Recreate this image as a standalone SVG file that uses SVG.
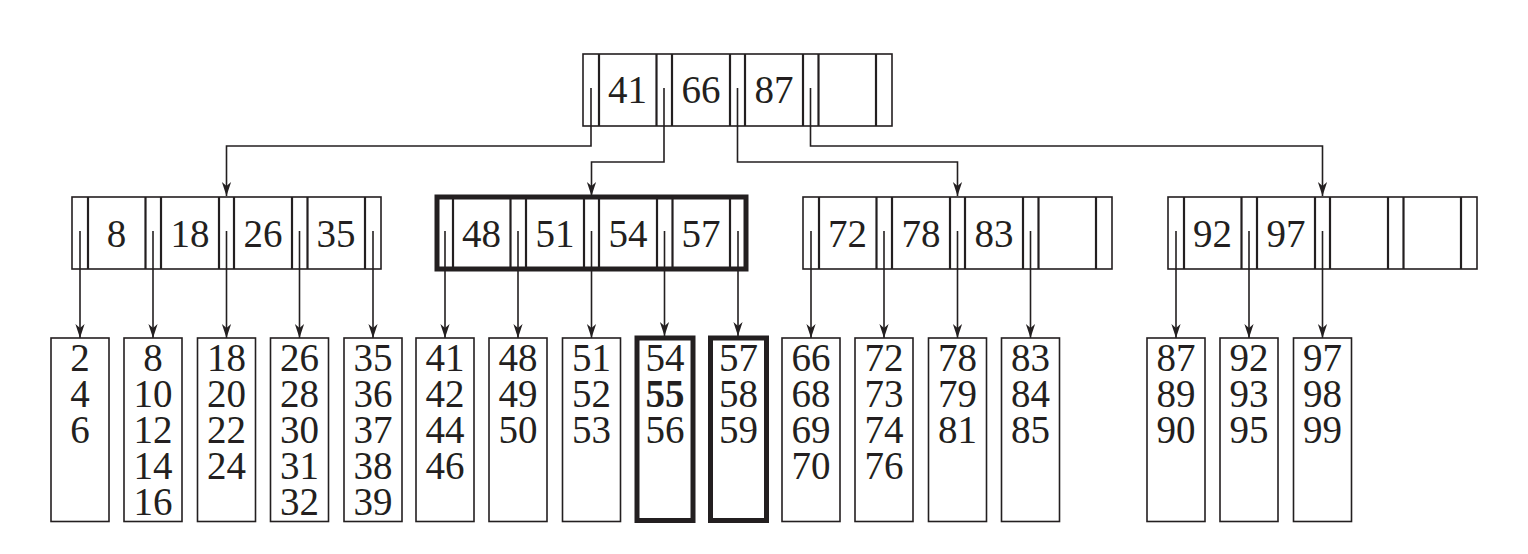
<svg xmlns="http://www.w3.org/2000/svg" width="1528" height="554" viewBox="0 0 1528 554">
<defs>
<style>
.box{fill:none;stroke:#231f20;stroke-width:1.6}
.bold{fill:none;stroke:#231f20;stroke-width:5}
.div{stroke:#231f20;stroke-width:2.2}
.t{font-family:"Liberation Serif","Times New Roman",serif;font-size:39px;fill:#231f20;text-anchor:middle}
.b{font-weight:bold}
.c{fill:none;stroke:#231f20;stroke-width:1.6}
</style>
<marker id="ah" markerUnits="userSpaceOnUse" markerWidth="16" markerHeight="12" refX="0" refY="0" viewBox="-15 -6 16 12" orient="auto">
<path d="M0,0 L-14,-4.6 L-10,0 L-14,4.6 Z" fill="#231f20"/>
</marker>
<g id="cells">
<line class="div" x1="16" y1="0" x2="16" y2="72"/>
<line class="div" x1="73.5" y1="0" x2="73.5" y2="72"/>
<line class="div" x1="89" y1="0" x2="89" y2="72"/>
<line class="div" x1="147" y1="0" x2="147" y2="72"/>
<line class="div" x1="162" y1="0" x2="162" y2="72"/>
<line class="div" x1="220" y1="0" x2="220" y2="72"/>
<line class="div" x1="235.5" y1="0" x2="235.5" y2="72"/>
<line class="div" x1="293" y1="0" x2="293" y2="72"/>
</g>
</defs>
<rect width="1528" height="554" fill="#ffffff"/>

<g id="root">
<rect class="box" x="583" y="54" width="309" height="72"/>
<use href="#cells" x="583" y="54"/>
<text class="t" x="627.5" y="103">41</text>
<text class="t" x="701" y="103">66</text>
<text class="t" x="774" y="103">87</text>
</g>

<g id="n1">
<rect class="box" x="72" y="197" width="309" height="72"/>
<use href="#cells" x="72" y="197"/>
<text class="t" x="116.5" y="246.5">8</text>
<text class="t" x="190" y="246.5">18</text>
<text class="t" x="263" y="246.5">26</text>
<text class="t" x="336" y="246.5">35</text>
</g>

<g id="n2">
<use href="#cells" x="437" y="197"/>
<rect class="bold" x="437" y="197" width="309" height="72"/>
<text class="t" x="481.5" y="246.5">48</text>
<text class="t" x="555" y="246.5">51</text>
<text class="t" x="628" y="246.5">54</text>
<text class="t" x="701" y="246.5">57</text>
</g>

<g id="n3">
<rect class="box" x="803" y="197" width="309" height="72"/>
<use href="#cells" x="803" y="197"/>
<text class="t" x="847.5" y="246.5">72</text>
<text class="t" x="921" y="246.5">78</text>
<text class="t" x="994" y="246.5">83</text>
</g>

<g id="n4">
<rect class="box" x="1168" y="197" width="309" height="72"/>
<use href="#cells" x="1168" y="197"/>
<text class="t" x="1212.5" y="246.5">92</text>
<text class="t" x="1286" y="246.5">97</text>
</g>

<g id="connectors">
<polyline class="c" points="591,88 591,146 226.5,146 226.5,196" marker-end="url(#ah)"/>
<polyline class="c" points="664,88 664,162 591.5,162 591.5,196" marker-end="url(#ah)"/>
<polyline class="c" points="737.5,88 737.5,162 957.5,162 957.5,196" marker-end="url(#ah)"/>
<polyline class="c" points="810.5,88 810.5,146 1322.5,146 1322.5,196" marker-end="url(#ah)"/>
<line class="c" x1="80" y1="231" x2="80" y2="338" marker-end="url(#ah)"/>
<line class="c" x1="153" y1="231" x2="153" y2="338" marker-end="url(#ah)"/>
<line class="c" x1="226.5" y1="231" x2="226.5" y2="338" marker-end="url(#ah)"/>
<line class="c" x1="299.5" y1="231" x2="299.5" y2="338" marker-end="url(#ah)"/>
<line class="c" x1="373" y1="231" x2="373" y2="338" marker-end="url(#ah)"/>
<line class="c" x1="445" y1="231" x2="445" y2="338" marker-end="url(#ah)"/>
<line class="c" x1="518" y1="231" x2="518" y2="338" marker-end="url(#ah)"/>
<line class="c" x1="591.5" y1="231" x2="591.5" y2="338" marker-end="url(#ah)"/>
<line class="c" x1="664.5" y1="231" x2="664.5" y2="336" marker-end="url(#ah)"/>
<line class="c" x1="738" y1="231" x2="738" y2="336" marker-end="url(#ah)"/>
<line class="c" x1="811" y1="231" x2="811" y2="338" marker-end="url(#ah)"/>
<line class="c" x1="884" y1="231" x2="884" y2="338" marker-end="url(#ah)"/>
<line class="c" x1="957.5" y1="231" x2="957.5" y2="338" marker-end="url(#ah)"/>
<line class="c" x1="1030.5" y1="231" x2="1030.5" y2="338" marker-end="url(#ah)"/>
<line class="c" x1="1176" y1="231" x2="1176" y2="338" marker-end="url(#ah)"/>
<line class="c" x1="1249" y1="231" x2="1249" y2="338" marker-end="url(#ah)"/>
<line class="c" x1="1322.5" y1="231" x2="1322.5" y2="338" marker-end="url(#ah)"/>
</g>

<g id="leaf1"><rect class="box" x="51" y="338" width="58" height="183.5"/>
<text class="t" x="80" y="371">2</text><text class="t" x="80" y="407">4</text><text class="t" x="80" y="443">6</text></g>
<g id="leaf2"><rect class="box" x="124" y="338" width="58" height="183.5"/>
<text class="t" x="153" y="371">8</text><text class="t" x="153" y="407">10</text><text class="t" x="153" y="443">12</text><text class="t" x="153" y="479">14</text><text class="t" x="153" y="515">16</text></g>
<g id="leaf3"><rect class="box" x="197.5" y="338" width="58" height="183.5"/>
<text class="t" x="226.5" y="371">18</text><text class="t" x="226.5" y="407">20</text><text class="t" x="226.5" y="443">22</text><text class="t" x="226.5" y="479">24</text></g>
<g id="leaf4"><rect class="box" x="270.5" y="338" width="58" height="183.5"/>
<text class="t" x="299.5" y="371">26</text><text class="t" x="299.5" y="407">28</text><text class="t" x="299.5" y="443">30</text><text class="t" x="299.5" y="479">31</text><text class="t" x="299.5" y="515">32</text></g>
<g id="leaf5"><rect class="box" x="344" y="338" width="58" height="183.5"/>
<text class="t" x="373" y="371">35</text><text class="t" x="373" y="407">36</text><text class="t" x="373" y="443">37</text><text class="t" x="373" y="479">38</text><text class="t" x="373" y="515">39</text></g>
<g id="leaf6"><rect class="box" x="416" y="338" width="58" height="183.5"/>
<text class="t" x="445" y="371">41</text><text class="t" x="445" y="407">42</text><text class="t" x="445" y="443">44</text><text class="t" x="445" y="479">46</text></g>
<g id="leaf7"><rect class="box" x="489" y="338" width="58" height="183.5"/>
<text class="t" x="518" y="371">48</text><text class="t" x="518" y="407">49</text><text class="t" x="518" y="443">50</text></g>
<g id="leaf8"><rect class="box" x="562.5" y="338" width="58" height="183.5"/>
<text class="t" x="591.5" y="371">51</text><text class="t" x="591.5" y="407">52</text><text class="t" x="591.5" y="443">53</text></g>
<g id="leaf9"><rect class="bold" x="637" y="338" width="56" height="182.5"/>
<text class="t" x="665" y="371">54</text><text class="t b" x="665" y="407">55</text><text class="t" x="665" y="443">56</text></g>
<g id="leaf10"><rect class="bold" x="710.5" y="338" width="56" height="182.5"/>
<text class="t" x="738.5" y="371">57</text><text class="t" x="738.5" y="407">58</text><text class="t" x="738.5" y="443">59</text></g>
<g id="leaf11"><rect class="box" x="782" y="338" width="58" height="183.5"/>
<text class="t" x="811" y="371">66</text><text class="t" x="811" y="407">68</text><text class="t" x="811" y="443">69</text><text class="t" x="811" y="479">70</text></g>
<g id="leaf12"><rect class="box" x="855" y="338" width="58" height="183.5"/>
<text class="t" x="884" y="371">72</text><text class="t" x="884" y="407">73</text><text class="t" x="884" y="443">74</text><text class="t" x="884" y="479">76</text></g>
<g id="leaf13"><rect class="box" x="928.5" y="338" width="58" height="183.5"/>
<text class="t" x="957.5" y="371">78</text><text class="t" x="957.5" y="407">79</text><text class="t" x="957.5" y="443">81</text></g>
<g id="leaf14"><rect class="box" x="1001.5" y="338" width="58" height="183.5"/>
<text class="t" x="1030.5" y="371">83</text><text class="t" x="1030.5" y="407">84</text><text class="t" x="1030.5" y="443">85</text></g>
<g id="leaf15"><rect class="box" x="1147" y="338" width="58" height="183.5"/>
<text class="t" x="1176" y="371">87</text><text class="t" x="1176" y="407">89</text><text class="t" x="1176" y="443">90</text></g>
<g id="leaf16"><rect class="box" x="1220" y="338" width="58" height="183.5"/>
<text class="t" x="1249" y="371">92</text><text class="t" x="1249" y="407">93</text><text class="t" x="1249" y="443">95</text></g>
<g id="leaf17"><rect class="box" x="1293.5" y="338" width="58" height="183.5"/>
<text class="t" x="1322.5" y="371">97</text><text class="t" x="1322.5" y="407">98</text><text class="t" x="1322.5" y="443">99</text></g>
</svg>
